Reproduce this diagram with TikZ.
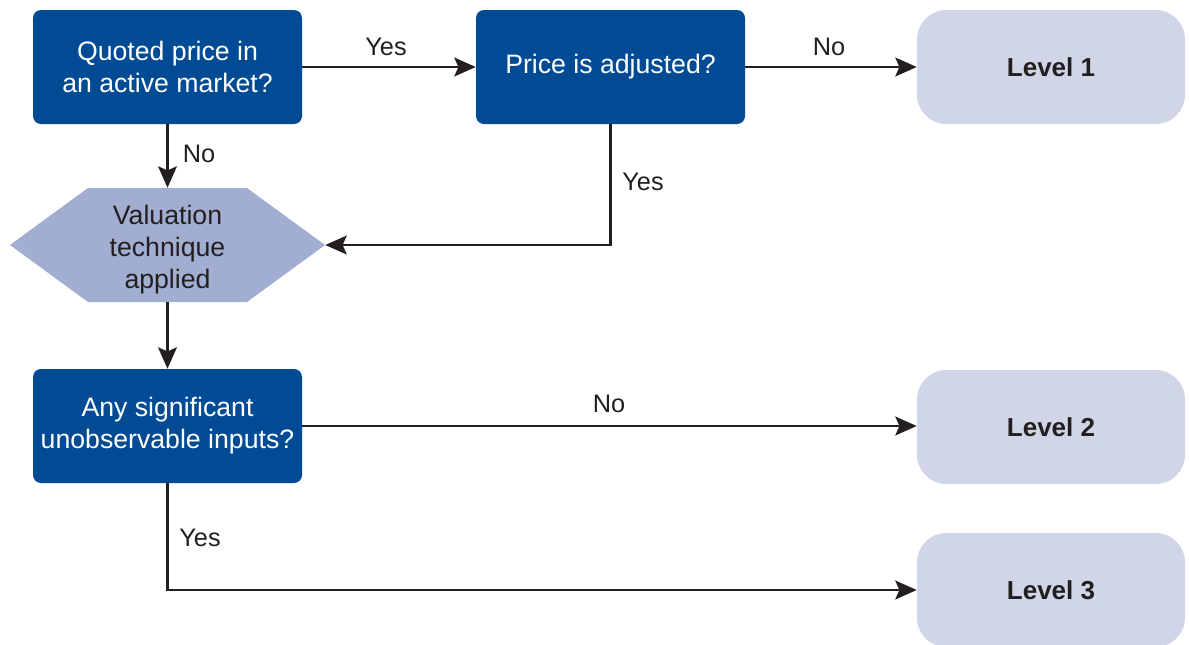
\documentclass[tikz,border=0pt]{standalone}
\usepackage{fontspec}
\setmainfont{Liberation Sans}
\usetikzlibrary{arrows.meta}
\definecolor{dblue}{HTML}{004B93}
\definecolor{hexblue}{HTML}{A1AED1}
\definecolor{lvl}{HTML}{D0D6E8}
\definecolor{ink}{HTML}{231F20}
\begin{document}
\begin{tikzpicture}[x=0.75pt,y=-0.75pt,
 qbox/.style={fill=dblue, rounded corners=6pt, minimum width=201.75pt, minimum height=85.5pt, text=white, font=\fontsize{20}{24}\selectfont, align=center, inner sep=0pt},
 lbox/.style={fill=lvl, rounded corners=22pt, minimum width=201pt, minimum height=85.5pt, text=ink, font=\fontsize{19.5}{22}\selectfont\bfseries, inner sep=0pt},
 conn/.style={draw=ink, line width=2.2pt, -{Stealth[length=16pt,width=14pt,inset=3pt]}},
 lab/.style={text=ink, font=\fontsize{19}{22}\selectfont, inner sep=0pt}]
\useasboundingbox (0,0) rectangle (1189,644);
\node[qbox] (q) at (167.5,67) {Quoted price in\\an active market?};
\node[qbox] (p) at (610.5,67) {Price is adjusted?};
\node[lbox] (l1) at (1051,67) {Level 1};
\fill[hexblue] (10,245) -- (88,188) -- (247,188) -- (325,245) -- (247,302) -- (88,302) -- cycle;
\node[minimum width=236.25pt, minimum height=85.5pt, inner sep=0pt] (v) at (167.5,245) {};
\node[inner sep=0pt, text=ink, font=\fontsize{20}{24}\selectfont, align=center] (vt) at (167.5,250) {Valuation\\technique\\applied};
\node[qbox] (a) at (167.5,426) {Any significant\\unobservable inputs?};
\node[lbox] (l2) at (1051,427) {Level 2};
\node[lbox] (l3) at (1051,590) {Level 3};
\draw[conn] (q.east) -- (p.west);
\draw[conn] (p.east) -- (l1.west);
\draw[conn] (q.south) -- (v.north);
\draw[conn] (p.south) |- (v.east);
\draw[conn] (v.south) -- (a.north);
\draw[conn] (a.east) -- (a.east -| l2.west);
\draw[conn] (a.south) |- (l3.west);
\node[lab] (t1) at (386,47) {Yes};
\node[lab] (t2) at (829,47) {No};
\node[lab] (t3) at (199,154) {No};
\node[lab] (t4) at (643,182) {Yes};
\node[lab] (t5) at (609,404) {No};
\node[lab] (t6) at (200,538) {Yes};
\end{tikzpicture}
\end{document}
